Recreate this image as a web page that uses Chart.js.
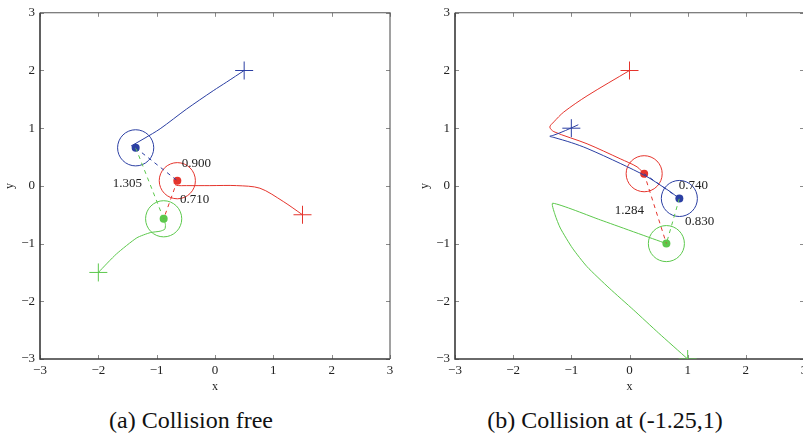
<!DOCTYPE html>
<html>
<head>
<meta charset="utf-8">
<script src="https://cdn.jsdelivr.net/npm/chart.js@4.4.1/dist/chart.umd.min.js"></script>
<style>
  html, body { margin:0; padding:0; background:#fff; width:803px; height:435px; overflow:hidden; }
  canvas { position:absolute; top:0; }
  .cap { position:absolute; font-family:'Liberation Serif','DejaVu Serif',serif; font-size:24px; color:#111; text-align:center; line-height:28px; white-space:nowrap; }
</style>
</head>
<body>
<canvas id="ca" width="400" height="400" style="left:0px"></canvas>
<canvas id="cb" width="414" height="400" style="left:400px"></canvas>
<div class="cap" style="left:41px; top:406px; width:300px;">(a) Collision free</div>
<div class="cap" style="left:455px; top:406px; width:300px;">(b) Collision at (-1.25,1)</div>
<script>
// ---------- data ----------
const axisTicks = [-3, -2, -1, 0, 1, 2, 3];
const colors = { blue: '#2b3fa3', red: '#e5342c', green: '#5cc84c' };

// Panel (a): collision free
const blueTrajA  = [[0.5,2],[0.2,1.8],[-0.03,1.65],[-0.49,1.33],[-0.94,0.99],[-1.2,0.83],[-1.44,0.69]];
const redTrajA   = [[1.5,-0.5],[1.17,-0.27],[0.77,-0.04],[0.37,0.005],[-0.09,0.005],[-0.49,0.005],[-0.66,0.01],[-0.70,0.05],[-0.65,0.09]];
const greenTrajA = [[-2,-1.5],[-1.69,-1.18],[-1.34,-0.9],[-1.11,-0.81],[-0.94,-0.785],[-0.86,-0.75],[-0.85,-0.67],[-0.87,-0.60],[-0.88,-0.57]];
const startsA = [[0.5,2],[1.5,-0.5],[-2,-1.5]];             // blue, red, green
const robotsA = [[-1.36,0.66],[-0.646,0.09],[-0.88,-0.57]];  // blue, red, green
const distLabelsA = ['0.900','1.305','0.710'];
const distLabelPosA = [[-0.57,0.38],[-1.25,0.04],[-0.60,-0.24]];
const distLabelAlignA = ['left','right','left'];

// Panel (b): collision at (-1.25,1)
const redTrajB   = [[0,2],[-0.73,1.56],[-1.13,1.28],[-1.30,1.11],[-1.37,1.02],[-1.30,0.94],[-0.73,0.73],[-0.16,0.47],[0.13,0.33],[0.25,0.21]];
const blueTrajB  = [[-0.88,1.06],[-1.1,0.96],[-1.3,0.88],[-1.37,0.86],[-1.30,0.84],[-1.0,0.75],[-0.73,0.65],[-0.16,0.39],[0.30,0.16],[0.58,-0.02],[0.70,-0.1],[0.86,-0.22]];
const greenTrajB = [[1,-3],[0.5,-2.55],[0.07,-2.15],[-0.35,-1.77],[-0.73,-1.4],[-0.98,-1.08],[-1.19,-0.73],[-1.28,-0.5],[-1.32,-0.30],[-0.5,-0.59],[0.634,-1.0]];
const startsB = [[-1,1],[0,2],[1,-3]];                         // blue, red, green
const robotsB = [[0.857,-0.218],[0.252,0.211],[0.634,-1.0]];   // blue, red, green
const distLabelsB = ['0.740','1.284','0.830'];
const distLabelPosB = [[0.847,0.0],[0.25,-0.427],[0.955,-0.61]];
const distLabelAlignB = ['left','right','left'];

const safetyRadius = 0.31;

// ---------- helpers ----------
const pts = arr => arr.map(p => ({x:p[0], y:p[1]}));
const fmt = v => (v < 0 ? '\u2212' + Math.abs(v) : String(v));
const SERIF = "'Liberation Serif', 'DejaVu Serif', serif";

const overlay = {
  id: 'overlay',
  beforeDatasetsDraw(chart, args, opts) {
    const {ctx, chartArea:a, scales:{x, y}} = chart;
    ctx.save();
    ctx.strokeStyle = '#8a8a8a'; ctx.lineWidth = 1;
    axisTicks.forEach(t => {
      const px = Math.round(x.getPixelForValue(t)) + 0.5;
      const py = Math.round(y.getPixelForValue(t)) + 0.5;
      ctx.beginPath();
      ctx.moveTo(px, a.bottom); ctx.lineTo(px, a.bottom - 4);
      ctx.moveTo(px, a.top); ctx.lineTo(px, a.top + 4);
      ctx.moveTo(a.left, py); ctx.lineTo(a.left + 4, py);
      ctx.moveTo(a.right, py); ctx.lineTo(a.right - 4, py);
      ctx.stroke();
    });
    ctx.strokeStyle = '#3a3a3a'; ctx.lineWidth = 1.6;
    ctx.beginPath();
    ctx.moveTo(a.left, a.top); ctx.lineTo(a.left, a.bottom); ctx.lineTo(a.right, a.bottom);
    ctx.stroke();
    ctx.strokeStyle = '#555'; ctx.lineWidth = 1.1;
    ctx.beginPath();
    ctx.moveTo(a.left, a.top); ctx.lineTo(a.right, a.top); ctx.lineTo(a.right, a.bottom);
    ctx.stroke();
    const cols = [colors.blue, colors.red, colors.green];
    opts.robots.forEach((r, i) => {
      const cx = x.getPixelForValue(r[0]), cy = y.getPixelForValue(r[1]);
      const rad = x.getPixelForValue(r[0] + safetyRadius) - cx;
      ctx.strokeStyle = cols[i]; ctx.lineWidth = 1;
      ctx.beginPath(); ctx.arc(cx, cy, rad, 0, Math.PI * 2); ctx.stroke();
    });
    ctx.fillStyle = '#222';
    ctx.font = '13px ' + SERIF;
    ctx.textBaseline = 'middle';
    opts.labels.forEach((t, i) => {
      ctx.textAlign = opts.align[i];
      ctx.fillText(t, x.getPixelForValue(opts.pos[i][0]), y.getPixelForValue(opts.pos[i][1]));
    });
    ctx.restore();
  }
};

function makeChart(id, trajs, starts, robots, labels, pos, align, yTitlePad) {
  const cols = [colors.blue, colors.red, colors.green];
  const [b, r, g] = robots;
  const datasets = [
    {data: pts(trajs.blue),  borderColor: colors.blue,  showLine:true, pointRadius:0, borderWidth:1, tension:0.3},
    {data: pts(trajs.red),   borderColor: colors.red,   showLine:true, pointRadius:0, borderWidth:1, tension:0.3},
    {data: pts(trajs.green), borderColor: colors.green, showLine:true, pointRadius:0, borderWidth:1, tension:0.2},
    {data: pts([b, r]), borderColor: colors.blue,  showLine:true, pointRadius:0, borderWidth:1, borderDash:[4,4]},
    {data: pts([b, g]), borderColor: colors.green, showLine:true, pointRadius:0, borderWidth:1, borderDash:[4,4]},
    {data: pts([r, g]), borderColor: colors.red,   showLine:true, pointRadius:0, borderWidth:1, borderDash:[4,4]},
    {data: pts(starts), pointStyle:'cross', pointRadius:9, pointBorderWidth:1, borderColor: cols, backgroundColor: cols, showLine:false},
    {data: pts(robots), pointStyle:'circle', pointRadius:4, pointBorderWidth:0, backgroundColor: cols, borderColor: cols, showLine:false}
  ];
  return new Chart(document.getElementById(id), {
    type: 'scatter',
    data: { datasets },
    options: {
      responsive: false,
      devicePixelRatio: 1,
      animation: false,
      layout: { padding: { top: 10, right: 10, left: 0, bottom: 0 } },
      plugins: { legend: {display:false}, tooltip: {enabled:false},
                 overlay: { robots, labels, pos, align } },
      scales: {
        x: {
          type: 'linear', min: -3, max: 3,
          afterBuildTicks: s => { s.ticks = axisTicks.map(v => ({value:v})); },
          afterFit: s => { s.height = 41; },
          grid: { display:false, drawTicks:false }, border: { display:false },
          ticks: { padding: 4, color:'#222', font: { family: SERIF, size: 13 }, callback: fmt, maxRotation:0, autoSkip:false },
          title: { display:true, text:'x', color:'#222', font:{ family: SERIF, size: 12 }, padding:{ top:0, bottom:6 } }
        },
        y: {
          type: 'linear', min: -3, max: 3,
          afterBuildTicks: s => { s.ticks = axisTicks.map(v => ({value:v})); },
          afterFit: s => { s.width = (id === 'ca' ? 40 : 55); },
          grid: { display:false, drawTicks:false }, border: { display:false },
          ticks: { padding: 5, color:'#222', font: { family: SERIF, size: 13 }, callback: fmt, autoSkip:false },
          title: { display:true, text:'y', color:'#222', font:{ family: SERIF, size: 12 }, padding:{ top: yTitlePad, bottom:0 } }
        }
      }
    },
    plugins: [overlay]
  });
}

makeChart('ca', {blue: blueTrajA, red: redTrajA, green: greenTrajA}, startsA, robotsA,
          distLabelsA, distLabelPosA, distLabelAlignA, 3);
makeChart('cb', {blue: blueTrajB, red: redTrajB, green: greenTrajB}, startsB, robotsB,
          distLabelsB, distLabelPosB, distLabelAlignB, 18);
</script>
</body>
</html>
